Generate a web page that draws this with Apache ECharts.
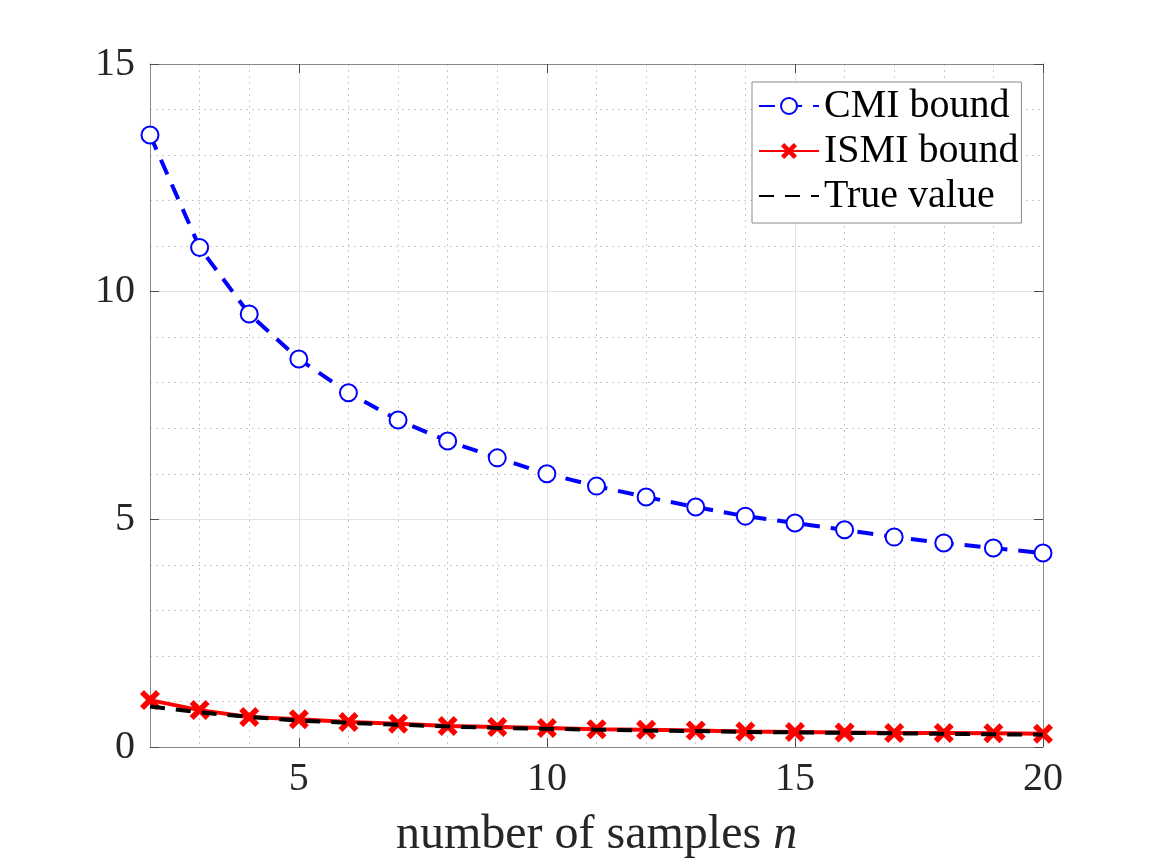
<!DOCTYPE html>
<html>
<head>
<meta charset="utf-8">
<script src="https://cdn.jsdelivr.net/npm/echarts@6/dist/echarts.min.js"></script>
<style>
  html, body { margin: 0; padding: 0; background: #fff; }
  #chart { width: 1152px; height: 864px; }
</style>
</head>
<body>
<div id="chart"></div>
<script>
// 样本数 n
var samples = [2, 3, 4, 5, 6, 7, 8, 9, 10, 11, 12, 13, 14, 15, 16, 17, 18, 19, 20];
var cmiBound = [13.44, 10.97, 9.51, 8.52, 7.78, 7.18, 6.72, 6.35, 6.00, 5.73,
                5.49, 5.27, 5.07, 4.92, 4.77, 4.61, 4.48, 4.37, 4.26];
var ismiBound = [1.03, 0.81, 0.66, 0.61, 0.55, 0.51, 0.46, 0.44, 0.42, 0.39,
                 0.38, 0.36, 0.34, 0.33, 0.32, 0.31, 0.31, 0.30, 0.29];
var trueValue = [0.89, 0.76, 0.66, 0.58, 0.53, 0.49, 0.45, 0.42, 0.40, 0.38,
                 0.36, 0.35, 0.33, 0.32, 0.31, 0.30, 0.29, 0.28, 0.27];
var xTicks = [5, 10, 15, 20];
var legendNames = ['CMI bound', 'ISMI bound', 'True value'];

var font = 'Liberation Serif';
var axisGray = '#8a8a8a';
var tickDark = '#4d4d4d';
var majorGrid = '#e3e3e3';
var minorGrid = '#c9c9c9';

function pairs(ys) {
	var out = [];
	for (var i = 0; i < samples.length; i++) {
		out.push([samples[i], ys[i]]);
	}
	return out;
}

// 粗的叉形标记
var crossPath = 'path://M0,2L2,0L5,3L8,0L10,2L7,5L10,8L8,10L5,7L2,10L0,8L3,5Z';

var chart = echarts.init(document.getElementById('chart'));
var option = {
	animation: false,
	backgroundColor: '#fff',
	grid: { left: 150, right: 109, top: 64, bottom: 117 },
	legend: {
		orient: 'vertical',
		left: 752,
		top: 82,
		data: [
			{ name: legendNames[0] },
			{ name: legendNames[1] },
			{ name: legendNames[2], itemStyle: { opacity: 0 } }
		],
		itemWidth: 60,
		itemHeight: 20,
		itemGap: 5,
		itemTextGap: 10,
		padding: [4, 3, 7, 6],
		backgroundColor: '#fff',
		borderColor: axisGray,
		borderWidth: 1,
		borderRadius: 0,
		textStyle: { fontFamily: font, fontSize: 40, color: '#000', lineHeight: 40 }
	},
	xAxis: [
		{ // 主轴：底部刻度和标签
			type: 'value', min: 2, max: 20, position: 'bottom',
			name: 'number of samples {i|n}',
			nameLocation: 'middle',
			nameGap: 64,
			nameTextStyle: {
				fontFamily: font, fontSize: 48, color: '#262626',
				rich: { i: { fontFamily: font, fontSize: 48, fontStyle: 'italic', color: '#262626' } }
			},
			axisLine: { show: true, onZero: false, lineStyle: { color: axisGray, width: 1 } },
			axisTick: { show: true, inside: true, length: 9, customValues: xTicks, lineStyle: { color: tickDark } },
			axisLabel: { customValues: xTicks, fontFamily: font, fontSize: 40, color: '#262626', margin: 12 },
			splitLine: { show: false }
		},
		{ // 顶部边框
			type: 'value', min: 2, max: 20, position: 'top',
			axisLine: { show: true, onZero: false, lineStyle: { color: axisGray, width: 1 } },
			axisTick: { show: true, inside: true, length: 9, customValues: xTicks, lineStyle: { color: tickDark } },
			axisLabel: { show: false },
			splitLine: { show: false }
		},
		{ // 主网格线
			type: 'value', min: 2, max: 20, interval: 1,
			axisLine: { show: false }, axisTick: { show: false }, axisLabel: { show: false },
			splitLine: { show: true, lineStyle: { type: 'solid', width: 1,
				color: ['transparent', 'transparent', 'transparent', majorGrid, 'transparent'] } }
		},
		{ // 次网格线
			type: 'value', min: 2, max: 20, interval: 1,
			axisLine: { show: false }, axisTick: { show: false }, axisLabel: { show: false },
			splitLine: { show: true, lineStyle: { type: [2, 4], width: 1,
				color: [minorGrid, minorGrid, minorGrid, 'transparent', minorGrid] } }
		}
	],
	yAxis: [
		{
			type: 'value', min: 0, max: 15, interval: 5, position: 'left',
			axisLine: { show: true, onZero: false, lineStyle: { color: axisGray, width: 1 } },
			axisTick: { show: true, inside: true, length: 9, lineStyle: { color: tickDark } },
			axisLabel: { fontFamily: font, fontSize: 40, color: '#262626', margin: 15 },
			splitLine: { show: true, lineStyle: { color: majorGrid, width: 1 } }
		},
		{
			type: 'value', min: 0, max: 15, interval: 5, position: 'right',
			axisLine: { show: true, onZero: false, lineStyle: { color: axisGray, width: 1 } },
			axisTick: { show: true, inside: true, length: 9, lineStyle: { color: tickDark } },
			axisLabel: { show: false },
			splitLine: { show: false }
		},
		{
			type: 'value', min: 0, max: 15, interval: 1,
			axisLine: { show: false }, axisTick: { show: false }, axisLabel: { show: false },
			splitLine: { show: true, lineStyle: { type: [2, 4], width: 1,
				color: ['transparent', minorGrid, minorGrid, minorGrid, minorGrid] } }
		}
	],
	series: [
		{
			name: legendNames[0],
			type: 'line',
			data: pairs(cmiBound),
			symbol: 'emptyCircle',
			symbolSize: 17,
			lineStyle: { color: '#0000ff', width: 4, type: [16, 11] },
			itemStyle: { color: '#0000ff', borderColor: '#0000ff', borderWidth: 3.5 },
			z: 3
		},
		{
			name: legendNames[1],
			type: 'line',
			data: pairs(ismiBound),
			symbol: crossPath,
			symbolSize: 20,
			lineStyle: { color: '#ff0000', width: 4 },
			itemStyle: { color: '#ff0000' },
			z: 4
		},
		{
			name: legendNames[2],
			type: 'line',
			data: pairs(trueValue),
			symbol: 'none',
			lineStyle: { color: '#000000', width: 4, type: [15, 11] },
			itemStyle: { color: '#000000' },
			z: 5
		}
	]
};
chart.setOption(option);
</script>
</body>
</html>
